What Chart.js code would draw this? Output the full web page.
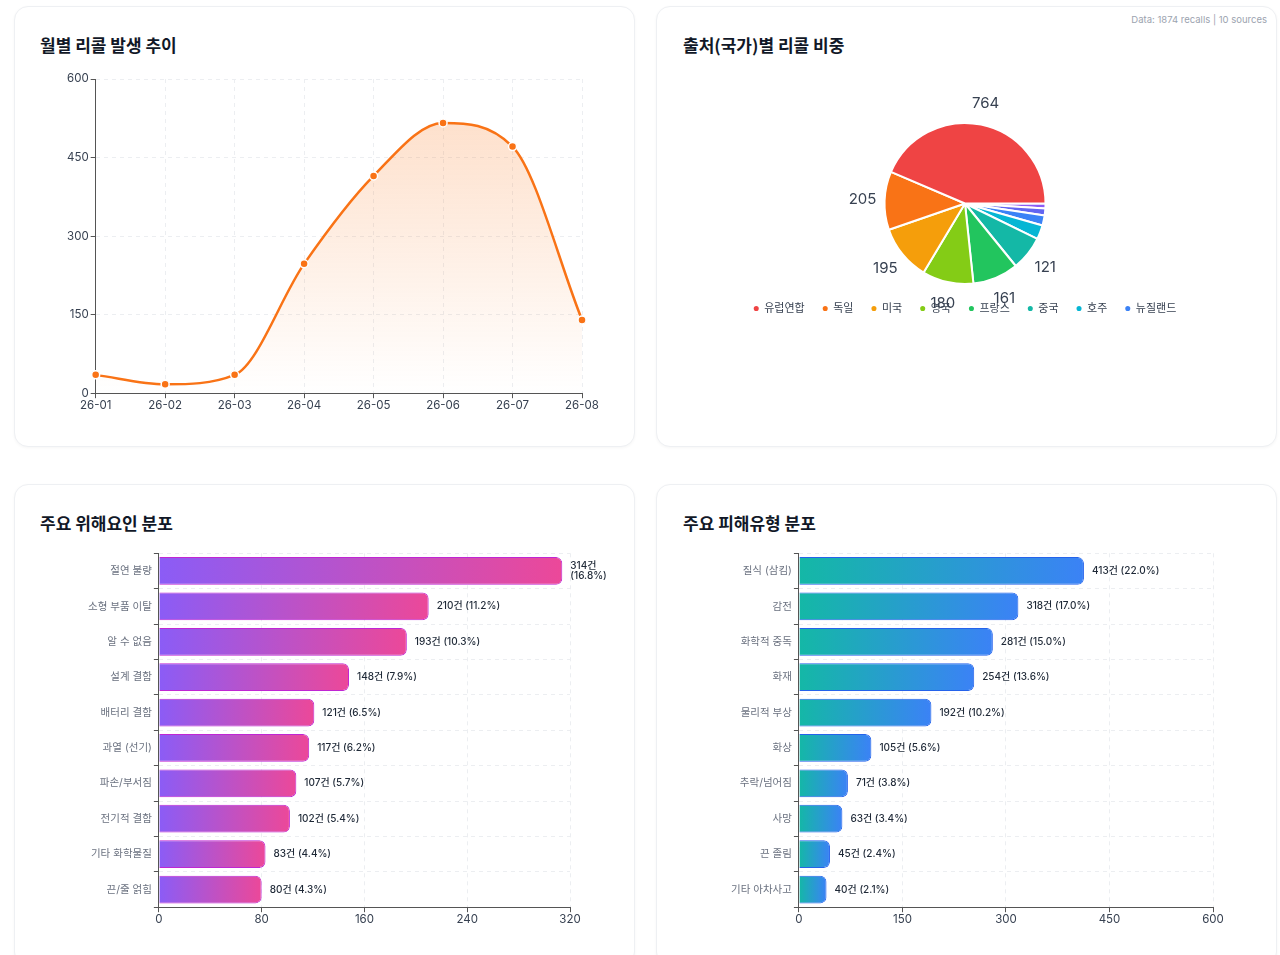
<!DOCTYPE html>
<html><head><meta charset="utf-8">
<script src="https://cdn.jsdelivr.net/npm/chart.js@4.4.1/dist/chart.umd.min.js"></script>
<style>
body{margin:0;background:#fff;font-family:Inter,"Noto Sans CJK KR",sans-serif;width:1280px;height:955px;overflow:hidden;position:relative}
.card{position:absolute;background:#fff;border:1px solid #eef0f3;border-radius:14px;box-shadow:0 1px 3px rgba(0,0,0,0.04)}
.title{position:absolute;font-size:17px;font-weight:700;color:#111827;font-family:"Noto Sans CJK KR",sans-serif}
.cv{position:absolute}
#meta{position:absolute;right:13px;top:14px;font-size:9.5px;color:#9ca3af}
</style></head><body>
<div class="card" style="left:14px;top:6px;width:619px;height:439px"></div>
<div class="card" style="left:656px;top:6px;width:619px;height:439px"></div>
<div class="card" style="left:14px;top:484px;width:619px;height:480px"></div>
<div class="card" style="left:656px;top:484px;width:619px;height:480px"></div>
<div id="meta">Data: 1874 recalls | 10 sources</div>
<div class="title" style="left:40px;top:32px">월별 리콜 발생 추이</div>
<div class="title" style="left:683px;top:32px">출처(국가)별 리콜 비중</div>
<div class="title" style="left:40px;top:510px">주요 위해요인 분포</div>
<div class="title" style="left:683px;top:510px">주요 피해유형 분포</div>
<div class="cv" style="left:40px;top:68px;width:580px;height:350px"><canvas id="c1"></canvas></div>
<div class="cv" style="left:670px;top:80px;width:590px;height:290px"><canvas id="c2"></canvas></div>
<div class="cv" style="left:40px;top:545px;width:590px;height:390px"><canvas id="c3"></canvas></div>
<div class="cv" style="left:683px;top:545px;width:590px;height:390px"><canvas id="c4"></canvas></div>
<script>
const TOTAL = 1874;
const months = ['26-01','26-02','26-03','26-04','26-05','26-06','26-07','26-08'];
const monthly = [35,17,35,247,415,516,471,140];
const countries = ['유럽연합','독일','미국','영국','프랑스','중국','호주','뉴질랜드','기타1','기타2'];
const countryVals = [764,205,195,180,161,121,50,35,25,17];
const countryColors = ['#ef4444','#f97316','#f59e0b','#84cc16','#22c55e','#14b8a6','#06b6d4','#3b82f6','#6366f1','#8b5cf6'];
const hazards = ['절연 불량','소형 부품 이탈','알 수 없음','설계 결함','배터리 결함','과열 (선기)','파손/부서짐','전기적 결함','기타 화학물질','끈/줄 얽힘'];
const hazardVals = [314,210,193,148,121,117,107,102,83,80];
const injuries = ['질식 (삼킴)','감전','화학적 중독','화재','물리적 부상','화상','추락/넘어짐','사망','끈 졸림','기타 아차사고'];
const injuryVals = [413,318,281,254,192,105,71,63,45,40];

const FONT = 'Inter, "Noto Sans CJK KR", sans-serif';
Chart.defaults.font.family = FONT;
Chart.defaults.color = '#4b5563';
Chart.defaults.animation = false;

new Chart(document.getElementById('c1'), {
  type:'line',
  data:{labels:months, datasets:[{data:monthly, borderColor:'#f97316', borderWidth:2.5, tension:0.4, cubicInterpolationMode:'monotone',
    pointRadius:4, pointBackgroundColor:'#f97316', pointBorderColor:'#fff', pointBorderWidth:1.5, fill:true,
    backgroundColor:(ctx)=>{const a=ctx.chart.chartArea; if(!a) return 'rgba(249,115,22,0.1)';
      const g=ctx.chart.ctx.createLinearGradient(0,a.top,0,a.bottom); g.addColorStop(0,'rgba(249,115,22,0.25)'); g.addColorStop(1,'rgba(249,115,22,0)'); return g;}}]},
  options:{responsive:true, maintainAspectRatio:false, layout:{padding:{left:25,right:38,top:11,bottom:6}},
    plugins:{legend:{display:false}, tooltip:{enabled:false}},
    scales:{x:{grid:{color:'#eceef1', tickLength:5, tickColor:'#555'}, border:{color:'#555', dash:[4,4]}, ticks:{color:'#374151',font:{size:11.5},padding:0}},
      y:{min:0,max:600, grid:{color:'#eceef1', tickLength:5, tickColor:'#555'}, border:{color:'#555', dash:[4,4]}, ticks:{stepSize:150,color:'#374151',font:{size:11.5},padding:2}}}}
});

const pieLabels = {id:'pieLabels', afterDatasetsDraw(chart){
  const c=chart.ctx, meta=chart.getDatasetMeta(0);
  c.save(); c.font='15px '+FONT; c.fillStyle='#374151'; c.textAlign='center'; c.textBaseline='middle';
  meta.data.forEach((arc,i)=>{ const v=chart.data.datasets[0].data[i]; if(v<100) return;
    const m=(arc.startAngle+arc.endAngle)/2, r=arc.outerRadius+22;
    c.fillText(String(v), arc.x+Math.cos(m)*r, arc.y+Math.sin(m)*r);});
  c.restore();}};
new Chart(document.getElementById('c2'), {
  type:'pie',
  data:{labels:countries.slice().reverse(), datasets:[{data:countryVals.slice().reverse(), backgroundColor:countryColors.slice().reverse(), borderColor:'#fff', borderWidth:2}]},
  options:{responsive:true, maintainAspectRatio:false, rotation:90, layout:{padding:{top:42,bottom:46}},
    plugins:{tooltip:{enabled:false}, legend:{position:'bottom', reverse:true,
      labels:{usePointStyle:true, pointStyle:'circle', boxWidth:5, boxHeight:5, padding:18, color:'#374151', font:{size:11},
        filter:(it)=>!it.text.startsWith('기타')}}}},
  plugins:[pieLabels]
});

function barChart(id, labels, vals, max, step, c0, c1, border){
  const valLabels = {id:'valLabels', afterDatasetsDraw(chart){
    const c=chart.ctx, meta=chart.getDatasetMeta(0);
    c.save(); c.font='500 10px '+FONT; c.fillStyle='#1f2937'; c.textBaseline='middle';
    meta.data.forEach((b,i)=>{ const v=vals[i]; const p=(v/TOTAL*100).toFixed(1);
      const t=v+'건 ('+p+'%)'; const x=b.x+8;
      if(x+c.measureText(t).width>chart.chartArea.right+8){ c.fillText(v+'건',x,b.y-5); c.fillText('('+p+'%)',x,b.y+5);} else c.fillText(t,x,b.y);});
    c.restore();}};
  new Chart(document.getElementById(id), {
    type:'bar',
    data:{labels, datasets:[{data:vals, borderWidth:1, borderColor:border, borderRadius:6, borderSkipped:'start',
      barPercentage:0.8, categoryPercentage:0.98,
      backgroundColor:(ctx)=>{const ch=ctx.chart, a=ch.chartArea; if(!a||ctx.raw===undefined) return c0;
        const x0=ch.scales.x.getPixelForValue(0), x1=ch.scales.x.getPixelForValue(ctx.raw);
        const g=ch.ctx.createLinearGradient(x0,0,x1,0); g.addColorStop(0,c0); g.addColorStop(1,c1); return g;}}]},
    options:{indexAxis:'y', responsive:true, maintainAspectRatio:false, layout:{padding:{left:46,right:60,top:2,bottom:9}},
      plugins:{legend:{display:false}, tooltip:{enabled:false}},
      scales:{x:{min:0,max:max, grid:{color:'#eceef1', tickLength:5, tickColor:'#555'}, border:{color:'#555',dash:[4,4]}, ticks:{stepSize:step,color:'#374151',font:{size:11.5},padding:0}},
        y:{grid:{color:'#eceef1', tickLength:5, tickColor:'#555'}, border:{color:'#555',dash:[4,4]}, ticks:{color:'#6b7280',font:{size:10.5},padding:2}}}},
    plugins:[valLabels]
  });
}
barChart('c3', hazards, hazardVals, 320, 80, '#8b5cf6', '#ec4899', '#c026d3');
barChart('c4', injuries, injuryVals, 600, 150, '#14b8a6', '#3b82f6', '#2563eb');
</script></body></html>
